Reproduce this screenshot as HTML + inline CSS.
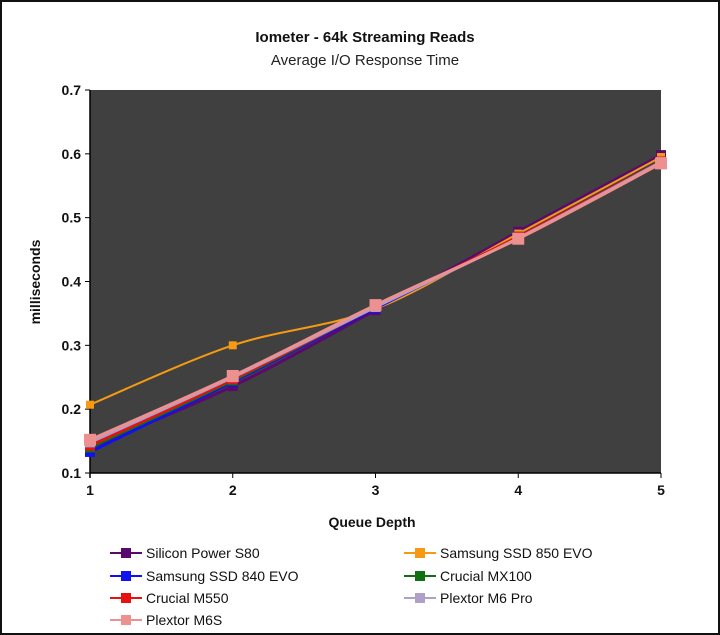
<!DOCTYPE html>
<html><head><meta charset="utf-8">
<style>
html,body{margin:0;padding:0;background:#fff;}
#wrap{width:716px;height:631px;border:2px solid #111;position:relative;overflow:hidden;}
svg{font-family:"Liberation Sans",sans-serif;}
</style></head>
<body>
<div id="wrap">
<svg id="chart" width="716" height="631"></svg>
</div>
<script>
const categories = [1, 2, 3, 4, 5];
const yTicks = [0.1, 0.2, 0.3, 0.4, 0.5, 0.6, 0.7];
const seriesNames = ["Silicon Power S80","Samsung SSD 850 EVO","Samsung SSD 840 EVO","Crucial MX100","Crucial M550","Plextor M6 Pro","Plextor M6S"];
const seriesColors = ["#5a0a6e","#f59a12","#1010f0","#127012","#e81010","#b0a0c8","#ec9090"];
const sPowerS80 = [0.140, 0.236, 0.355, 0.478, 0.598];
const s850Evo = [0.207, 0.300, 0.357, 0.475, 0.595];
const s840Evo = [0.133, 0.243, 0.358, 0.470, 0.588];
const mx100 = [0.140, 0.245, 0.360, 0.470, 0.588];
const m550 = [0.143, 0.247, 0.360, 0.470, 0.588];
const m6Pro = [0.148, 0.250, 0.360, 0.468, 0.587];
const m6S = [0.152, 0.252, 0.363, 0.467, 0.585];
const seriesValues = [sPowerS80, s850Evo, s840Evo, mx100, m550, m6Pro, m6S];

const NS = "http://www.w3.org/2000/svg";
const svg = document.getElementById("chart");
const L = 88, R = 659, T = 88, B = 471;
const xS = v => L + (v - 1) / 4 * (R - L);
const yS = v => B - (v - 0.1) / 0.6 * (B - T);
function mk(tag, attrs, parent) {
  const e = document.createElementNS(NS, tag);
  for (const k in attrs) e.setAttribute(k, attrs[k]);
  (parent || svg).appendChild(e);
  return e;
}
function smoothPath(p) {
  let d = "M" + p[0][0] + "," + p[0][1];
  for (let i = 0; i < p.length - 1; i++) {
    const p0 = p[i - 1] || p[i], p1 = p[i], p2 = p[i + 1], p3 = p[i + 2] || p2;
    const c1x = p1[0] + (p2[0] - p0[0]) / 6, c1y = p1[1] + (p2[1] - p0[1]) / 6;
    const c2x = p2[0] - (p3[0] - p1[0]) / 6, c2y = p2[1] - (p3[1] - p1[1]) / 6;
    d += " C" + c1x + "," + c1y + " " + c2x + "," + c2y + " " + p2[0] + "," + p2[1];
  }
  return d;
}
let t = mk("text", {x: 363, y: 40, "text-anchor": "middle", "font-size": 15, "font-weight": "bold", fill: "#111"});
t.textContent = "Iometer - 64k Streaming Reads";


t = mk("text", {x: 363, y: 63, "text-anchor": "middle", "font-size": 15, fill: "#222"});
t.textContent = "Average I/O Response Time";



const plot = mk("rect", {x: L, y: T, width: R - L, height: B - T, fill: "#404040"});


mk("line", {x1: L, y1: T, x2: L, y2: B + 5, stroke: "#000", "stroke-width": 1.5});
mk("line", {x1: L, y1: B, x2: R, y2: B, stroke: "#000", "stroke-width": 1.5});

yTicks.forEach(v => {
  const y = yS(v);
  mk("line", {x1: L - 5, y1: y, x2: L, y2: y, stroke: "#000"});
  const tx = mk("text", {x: L - 9, y: y + 5, "text-anchor": "end", "font-size": 14, "font-weight": "bold", fill: "#111"});
  tx.textContent = v.toFixed(1);
  
  
});
categories.forEach(c => {
  const x = xS(c);
  mk("line", {x1: x, y1: B, x2: x, y2: B + 5, stroke: "#000"});
  const tx = mk("text", {x: x, y: B + 22, "text-anchor": "middle", "font-size": 14, "font-weight": "bold", fill: "#111"});
  tx.textContent = c;
  
  
});
t = mk("text", {x: 370, y: 525, "text-anchor": "middle", "font-size": 14, "font-weight": "bold", fill: "#111"});
t.textContent = "Queue Depth";


t = mk("text", {x: 38, y: 280, "text-anchor": "middle", "font-size": 14, "font-weight": "bold", fill: "#111", transform: "rotate(-90 38 280)"});
t.textContent = "milliseconds";



const msize = [10, 8, 10, 10, 10, 10, 12];
seriesValues.forEach((vals, i) => {
  const g = mk("g", {});
  
  
  const pts = vals.map((v, j) => [xS(categories[j]), yS(v)]);
  mk("path", {d: smoothPath(pts), fill: "none", stroke: seriesColors[i], "stroke-width": i === 1 ? 2 : 3}, g);
  vals.forEach((v, j) => {
    const s = msize[i];
    const m = mk("rect", {x: xS(categories[j]) - s / 2, y: yS(v) - s / 2, width: s, height: s, fill: seriesColors[i]}, g);
    
    
  });
});

const legPos = [[108, 551], [402, 551], [108, 574], [402, 574], [108, 596], [402, 596], [108, 618]];
seriesNames.forEach((n, i) => {
  const [x, y] = legPos[i];
  const g = mk("g", {});
  
  
  mk("line", {x1: x, y1: y, x2: x + 32, y2: y, stroke: seriesColors[i], "stroke-width": 2}, g);
  mk("rect", {x: x + 11, y: y - 5, width: 10, height: 10, fill: seriesColors[i]}, g);
  const tx = mk("text", {x: x + 36, y: y + 5, "font-size": 14, fill: "#111"}, g);
  tx.textContent = n;
});
</script>
</body></html>
